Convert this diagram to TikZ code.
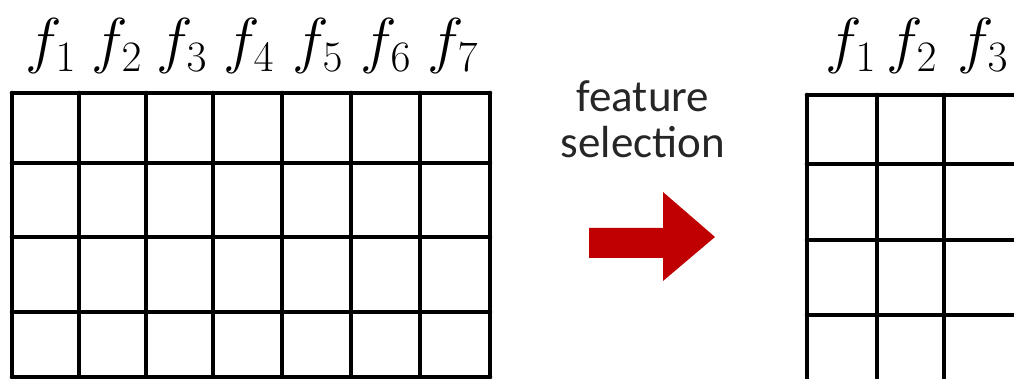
\RequirePackage{fix-cm}
\documentclass[tikz,border=0pt]{standalone}
\usepackage{fontspec}
\setmainfont{Carlito}
\definecolor{ArrowClr}{RGB}{192,0,0}
\tikzset{gridline/.style={line width=2.3pt,line join=round,line cap=round},
  featlbl/.style={anchor=base,inner sep=0pt,font=\fontsize{31}{31}\selectfont}}

\begin{document}
\begin{tikzpicture}[x=0.5pt,y=-0.5pt]
\useasboundingbox (0,0) rectangle (1014,379);
\clip (0,0) rectangle (1014,379);

% full feature table
\foreach \x in {12,79,146,213,282,351,420,490}
  \draw[gridline] (\x,93) -- (\x,377);
\foreach \y in {93,163,237,312,377}
  \draw[gridline] (12,\y) -- (490,\y);

\foreach \i/\x in {1/51,2/117,3/182,4/249,5/318,6/386,7/453}
  \node[featlbl] (lf\i) at (\x,62) {$f_{\i}$};

% selection step
\node[anchor=base,align=center,inner sep=0pt,text=black!85,font=\fontsize{22.5}{23}\selectfont] (seltxt) at (643,158) {feature\\selection};
\fill[ArrowClr] (589,228) -- (663,228) -- (663,192) -- (715,237)
  -- (663,281) -- (663,258) -- (589,258) -- cycle;

% reduced table
\foreach \x in {807,877,944}
  \draw[gridline] (\x,95) -- (\x,395);
\foreach \y in {95,164,240,315}
  \draw[gridline] (807,\y) -- (1030,\y);

\foreach \i/\x in {1/851,2/912,3/983}
  \node[featlbl] (rf\i) at (\x,62) {$f_{\i}$};

\end{tikzpicture}
\end{document}
